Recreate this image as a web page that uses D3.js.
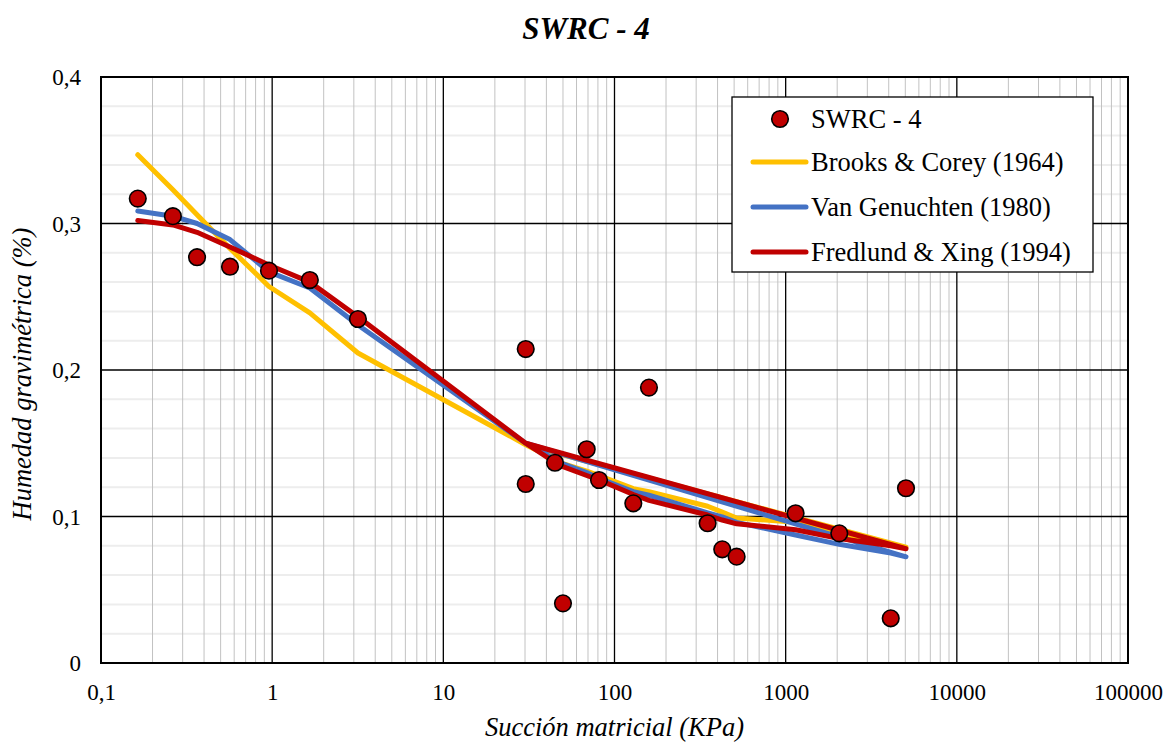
<!DOCTYPE html>
<html>
<head>
<meta charset="utf-8">
<script src="https://cdn.jsdelivr.net/npm/d3@7"></script>
<style>
  html, body { margin: 0; padding: 0; background: #fff; }
  svg { display: block; }
  svg text { font-family: "Liberation Serif", "Times New Roman", serif; fill: #000; }
</style>
</head>
<body>
<svg id="chart" width="1168" height="742"></svg>
<script>
// Measured data (SWRC - 4)
const suction = [0.164, 0.263, 0.364, 0.567, 0.958, 1.66, 3.17, 30.3, 30.3, 44.9, 50, 68.8, 81.2, 128.8, 159, 350, 426, 517, 1143, 2057, 4110, 5047];
const moisture = [0.317, 0.305, 0.277, 0.2705, 0.2678, 0.2614, 0.2348, 0.2143, 0.1222, 0.1367, 0.0407, 0.1459, 0.1249, 0.109, 0.188, 0.0954, 0.0776, 0.0726, 0.1022, 0.0885, 0.0305, 0.1193];

// Fitted curves, in the order the original series draws them
const fitSuction = [0.164, 0.263, 0.364, 0.567, 0.958, 1.66, 3.17, 30.3, 44.9, 50, 68.8, 81.2, 128.8, 159, 350, 426, 517, 1143, 2057, 4110, 5047, 30.3];
const brooksCorey = [0.347, 0.323, 0.306, 0.283, 0.257, 0.239, 0.2116, 0.149, 0.139, 0.136, 0.131, 0.128, 0.119, 0.117, 0.107, 0.103, 0.099, 0.096, 0.088, 0.081, 0.079, 0.149];
const vanGenuchten = [0.3085, 0.305, 0.300, 0.289, 0.267, 0.256, 0.2307, 0.150, 0.139, 0.136, 0.130, 0.126, 0.117, 0.1145, 0.1025, 0.0997, 0.096, 0.0874, 0.081, 0.075, 0.0725, 0.150];
const fredlundXing = [0.302, 0.299, 0.294, 0.284, 0.2717, 0.260, 0.2364, 0.150, 0.137, 0.134, 0.128, 0.125, 0.115, 0.111, 0.101, 0.0976, 0.095, 0.091, 0.085, 0.080, 0.078, 0.150];

const xTicks = [0.1, 1, 10, 100, 1000, 10000, 100000];
const xTickLabels = ["0,1", "1", "10", "100", "1000", "10000", "100000"];
const yTicks = [0, 0.1, 0.2, 0.3, 0.4];
const yTickLabels = ["0", "0,1", "0,2", "0,3", "0,4"];

const seriesNames = ["SWRC - 4", "Brooks & Corey (1964)", "Van Genuchten (1980)", "Fredlund & Xing (1994)"];
const lineColors = ["#FFC000", "#4472C4", "#C00000"];

const FONT = "Liberation Serif, Times New Roman, serif";
const svg = d3.select("#chart");
const L = 101, R = 1128, T = 77, B = 663;
const x = d3.scaleLog().domain([0.1, 100000]).range([L, R]);
const y = d3.scaleLinear().domain([0, 0.4]).range([B, T]);

// minor y grid (every 0.02)
const yMinor = d3.range(0.02, 0.4, 0.02).filter(v => Math.abs(v * 10 - Math.round(v * 10)) > 1e-6);
svg.append("g").selectAll("line").data(yMinor).join("line")
  .attr("x1", L).attr("x2", R).attr("y1", d => y(d)).attr("y2", d => y(d))
  .attr("stroke", "#EDEDED").attr("stroke-width", 2);

// minor x grid
const xMinor = [];
for (let e = -1; e < 5; e++) for (let m = 2; m <= 9; m++) xMinor.push(m * Math.pow(10, e));
svg.append("g").selectAll("line").data(xMinor).join("line")
  .attr("x1", d => x(d)).attr("x2", d => x(d)).attr("y1", T).attr("y2", B)
  .attr("stroke", "#C2C2C2").attr("stroke-width", 1);

// major grid
svg.append("g").selectAll("line").data(xTicks).join("line")
  .attr("x1", d => x(d)).attr("x2", d => x(d)).attr("y1", T).attr("y2", B)
  .attr("stroke", "#000").attr("stroke-width", 1.3);
svg.append("g").selectAll("line").data(yTicks).join("line")
  .attr("x1", L).attr("x2", R).attr("y1", d => y(d)).attr("y2", d => y(d))
  .attr("stroke", "#000").attr("stroke-width", 1.3);

// frame
svg.append("rect").attr("x", L).attr("y", T).attr("width", R - L).attr("height", B - T)
  .attr("fill", "none").attr("stroke", "#000").attr("stroke-width", 2);

// axes labels via d3 axes (no tick lines)
const xAxis = d3.axisBottom(x).tickValues(xTicks).tickFormat((d, i) => xTickLabels[i]).tickSize(0).tickPadding(0);
const gx = svg.append("g").attr("transform", `translate(0,${B})`).call(xAxis)
  .attr("font-family", FONT).attr("font-size", 23);
gx.select(".domain").remove();
gx.selectAll("text").attr("font-family", FONT).attr("font-size", 23).attr("fill", "#000")
  .attr("dy", null).attr("y", 37);

const yAxis = d3.axisLeft(y).tickValues(yTicks).tickFormat((d, i) => yTickLabels[i]).tickSize(0).tickPadding(0);
const gy = svg.append("g").attr("transform", `translate(${L},0)`).call(yAxis)
  .attr("font-family", FONT).attr("font-size", 23);
gy.select(".domain").remove();
gy.selectAll("text").attr("font-family", FONT).attr("font-size", 23).attr("fill", "#000")
  .attr("x", -20).attr("dy", "0.34em");

// lines
const lineGen = d3.line().x(d => x(d[0])).y(d => y(d[1]));
[brooksCorey, vanGenuchten, fredlundXing].forEach((vals, i) => {
  svg.append("path")
    .datum(fitSuction.map((s, j) => [s, vals[j]]))
    .attr("d", lineGen)
    .attr("fill", "none").attr("stroke", lineColors[i]).attr("stroke-width", 5)
    .attr("stroke-linejoin", "round").attr("stroke-linecap", "round");
});

// points
svg.append("g").selectAll("circle").data(suction.map((s, i) => [s, moisture[i]])).join("circle")
  .attr("cx", d => x(d[0])).attr("cy", d => y(d[1])).attr("r", 8.3)
  .attr("fill", "#C00000").attr("stroke", "#000").attr("stroke-width", 1.6);

// title
svg.append("text").attr("x", 586).attr("y", 39).attr("text-anchor", "middle").attr("font-family", FONT)
  .attr("font-size", 31).attr("font-weight", "bold").attr("font-style", "italic").text("SWRC - 4");

// axis titles
svg.append("text").attr("x", (L + R) / 2).attr("y", 736).attr("text-anchor", "middle").attr("font-family", FONT)
  .attr("font-size", 26.5).attr("font-style", "italic").text("Succión matricial (KPa)");
svg.append("text").attr("transform", `translate(31,${(T + B) / 2 + 4}) rotate(-90)`).attr("text-anchor", "middle")
  .attr("font-family", FONT).attr("font-size", 26.5).attr("font-style", "italic").text("Humedad gravimétrica (%)");

// legend
const lg = svg.append("g");
lg.append("rect").attr("x", 732).attr("y", 97).attr("width", 361).attr("height", 175)
  .attr("fill", "#fff").attr("stroke", "#000").attr("stroke-width", 1.3);
const rowY = [119, 162, 207, 252];
lg.append("circle").attr("cx", 780).attr("cy", rowY[0]).attr("r", 8.3)
  .attr("fill", "#C00000").attr("stroke", "#000").attr("stroke-width", 1.6);
lineColors.forEach((c, i) => {
  lg.append("line").attr("x1", 753).attr("x2", 806).attr("y1", rowY[i + 1]).attr("y2", rowY[i + 1])
    .attr("stroke", c).attr("stroke-width", 5).attr("stroke-linecap", "round");
});
seriesNames.forEach((n, i) => {
  lg.append("text").attr("x", 811).attr("y", rowY[i]).attr("dy", "0.35em").attr("font-family", FONT)
    .attr("font-size", 26.5).text(n);
});
</script>
</body>
</html>
